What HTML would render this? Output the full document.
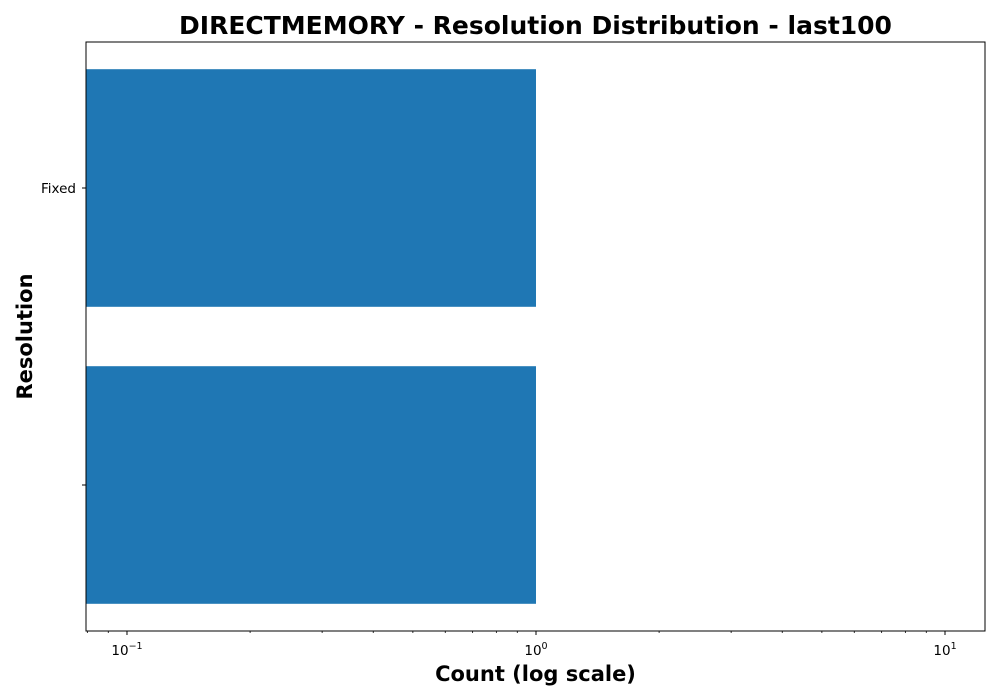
<!DOCTYPE html>
<html><head><meta charset="utf-8"><style>
body{margin:0;background:#fff;}
svg{display:block;font-family:"DejaVu Sans","Liberation Sans",sans-serif;}
</style></head><body>
<svg id="chart" width="1000" height="700" xmlns="http://www.w3.org/2000/svg">
<text x="535.5" y="34" text-anchor="middle" font-size="25" font-weight="bold">DIRECTMEMORY - Resolution Distribution - last100</text>
<text x="535.5" y="681" text-anchor="middle" font-size="21" font-weight="bold">Count (log scale)</text>
<text transform="translate(32,336.5) rotate(-90)" text-anchor="middle" font-size="21" font-weight="bold">Resolution</text>
<g id="plot"></g>
</svg>
<script>
const categories = ["Fixed", ""];
const counts = [1, 1];
const majorTicks = [0.1, 1, 10];
const majorLabels = ["10", "10", "10"];
const majorExps = ["\u22121", "0", "1"];

const L=86,R=985,T=42,B=631;
const lmin=-1.1002,lmax=1.0978;
const x=v=>L+(Math.log10(v)-lmin)/(lmax-lmin)*(R-L);
const step=297;
const y=i=>188+step*i;
const NS="http://www.w3.org/2000/svg";
const g=document.getElementById('plot');
function mk(t,a){const e=document.createElementNS(NS,t);for(const k in a)e.setAttribute(k,a[k]);g.appendChild(e);return e;}

categories.forEach((c,i)=>{
  const h=step*0.8;
  const r=mk('rect',{x:L,y:y(i)-h/2,width:x(counts[i])-L,height:h,fill:'#1f77b4'});
  
  
  const t=mk('line',{x1:L-4,x2:L,y1:y(i),y2:y(i),stroke:'#000','stroke-width':1});
  
  
  const lb=mk('text',{x:L-10,y:y(i)+5,'text-anchor':'end','font-size':13.5});
  
  
  lb.textContent=c;
});
for(let d=-2;d<=1;d++)for(let m=2;m<=9;m++){
  const v=m*Math.pow(10,d);const lv=Math.log10(v);
  if(lv<lmin||lv>lmax)continue;
  const t=mk('line',{x1:x(v),x2:x(v),y1:B,y2:B+2,stroke:'#000','stroke-width':0.8});
  
  
}
majorTicks.forEach((v,i)=>{
  const t=mk('line',{x1:x(v),x2:x(v),y1:B,y2:B+4,stroke:'#000','stroke-width':1});
  
  
  const lb=mk('text',{x:x(v),y:B+24,'text-anchor':'middle','font-size':13.5});
  
  
  lb.innerHTML=majorLabels[i]+'<tspan font-size="9.5" dy="-6">'+majorExps[i]+'</tspan>';
});
const f=mk('rect',{x:L,y:T,width:R-L,height:B-T,fill:'none',stroke:'#000','stroke-width':1});


</script>
</body></html>
